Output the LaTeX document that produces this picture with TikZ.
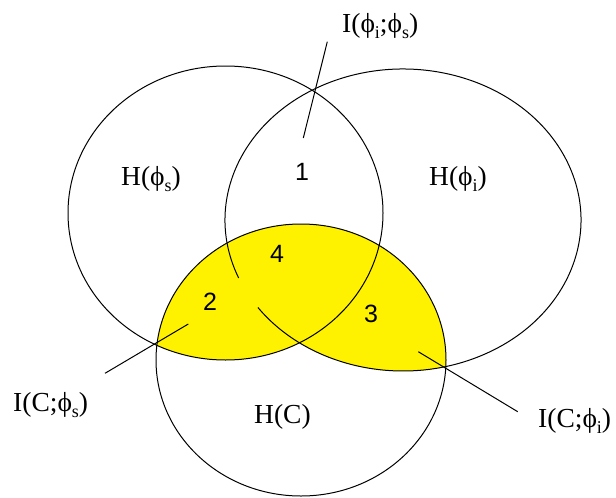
\documentclass[tikz,border=0pt]{standalone}
\usepackage{fontspec}
\setmainfont{Liberation Serif}
\newfontfamily\digitfont{Liberation Sans}
\newcommand{\lowsub}[1]{\raisebox{-6pt}{\fontsize{18}{18}\selectfont #1}}
\begin{document}
\begin{tikzpicture}[x=1pt,y=-1pt,
  outline/.style={line width=1pt, black},
  pointer/.style={line width=1pt, black},
  lab/.style={inner sep=0pt, anchor=base west, font=\fontsize{27.5}{30}\selectfont},
  num/.style={inner sep=0pt, anchor=base west, font=\digitfont\fontsize{25}{28}\selectfont}]
\useasboundingbox (0,0) rectangle (616,498);
\fill[white] (0,0) rectangle (616,498);
\coordinate (Lc) at (225.5,213);
\coordinate (Rc) at (403,220);
\coordinate (Bc) at (301,360);
% yellow region: inside H(C) and inside H(phi_s) or H(phi_i)
\begin{scope}
  \clip (Bc) ellipse [x radius=145, y radius=136];
  \fill[yellow] (Lc) ellipse [x radius=157.5, y radius=147];
  \fill[yellow] (Rc) ellipse [x radius=178, y radius=151];
\end{scope}
% outlines
\draw[outline] (Lc) ellipse [x radius=157.5, y radius=147];
\draw[outline] (Bc) ellipse [x radius=145, y radius=136];
\draw[outline] (Rc) ++(157.4:178 and 151) arc[start angle=157.4, end angle=504.6, x radius=178, y radius=151];
% pointer lines
\coordinate (p1a) at (327.3,41.7);
\coordinate (p1b) at (303.3,138);
\coordinate (p2a) at (105,373.3);
\coordinate (p2b) at (188.3,324);
\coordinate (p3a) at (517.7,411.7);
\coordinate (p3b) at (418.3,351.7);
\draw[pointer] (p1a) -- (p1b);
\draw[pointer] (p2a) -- (p2b);
\draw[pointer] (p3a) -- (p3b);
% labels
\node[lab] (lHs) at (121,185) {H(ϕ\lowsub{s})};
\node[lab] (lHi) at (429,185) {H(ϕ\lowsub{i})};
\node[lab] (lHC) at (254,423) {H(C)};
\node[lab] (lIis) at (342,32) {I(ϕ\lowsub{i};ϕ\lowsub{s})};
\node[lab] (lICs) at (13,411) {I(C;ϕ\lowsub{s})};
\node[lab] (lICi) at (538,427) {I(C;ϕ\lowsub{i})};
% region numbers
\node[num] (n1) at (295,180) {1};
\node[num] (n4) at (270,262) {4};
\node[num] (n2) at (203,310) {2};
\node[num] (n3) at (364,322) {3};
\end{tikzpicture}
\end{document}
